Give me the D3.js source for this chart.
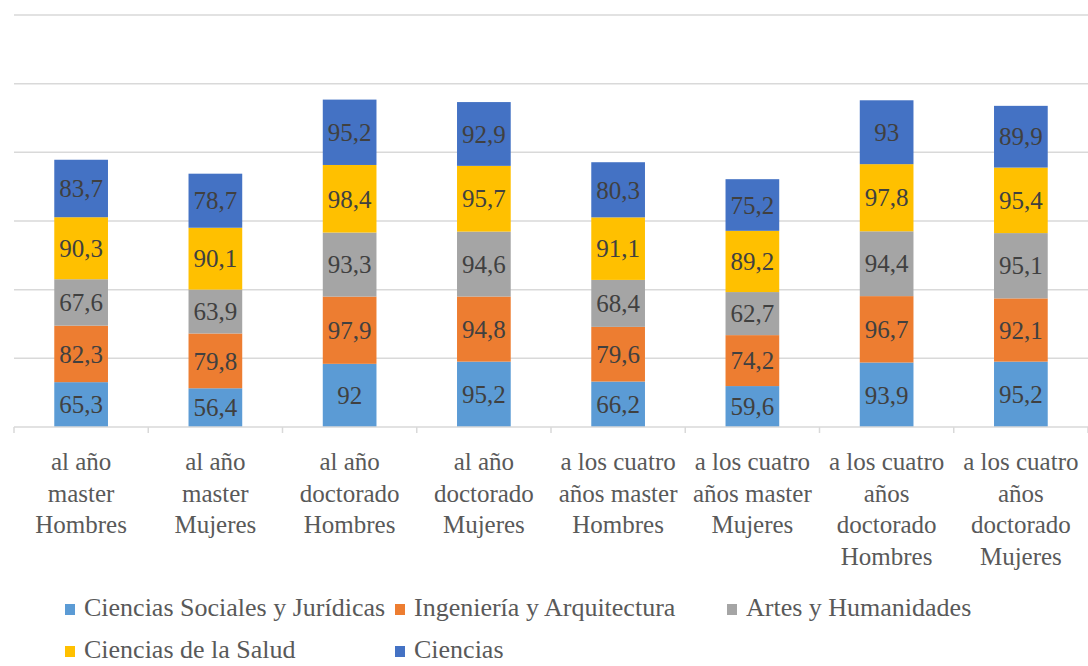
<!DOCTYPE html>
<html><head><meta charset="utf-8">
<script src="https://cdn.jsdelivr.net/npm/d3@7"></script>
<style>
html,body{margin:0;padding:0;background:#fff;}
svg{display:block;}
svg text{font-family:"Liberation Serif","Times New Roman","DejaVu Serif","Noto Serif",serif;}
</style></head>
<body>
<svg id="chart" width="1088" height="666"></svg>
<script>
const categories = [
  "al año master Hombres", "al año master Mujeres",
  "al año doctorado Hombres", "al año doctorado Mujeres",
  "a los cuatro años master Hombres", "a los cuatro años master Mujeres",
  "a los cuatro años doctorado Hombres", "a los cuatro años doctorado Mujeres"
];
const tickLabels = [
  ["al año","master","Hombres"], ["al año","master","Mujeres"],
  ["al año","doctorado","Hombres"], ["al año","doctorado","Mujeres"],
  ["a los cuatro","años master","Hombres"], ["a los cuatro","años master","Mujeres"],
  ["a los cuatro","años","doctorado","Hombres"], ["a los cuatro","años","doctorado","Mujeres"]
];
const seriesNames = ["Ciencias Sociales y Jurídicas","Ingeniería y Arquitectura","Artes y Humanidades","Ciencias de la Salud","Ciencias"];
const cienciasSociales = [65.3, 56.4, 92, 95.2, 66.2, 59.6, 93.9, 95.2];
const ingenieria       = [82.3, 79.8, 97.9, 94.8, 79.6, 74.2, 96.7, 92.1];
const artes            = [67.6, 63.9, 93.3, 94.6, 68.4, 62.7, 94.4, 95.1];
const salud            = [90.3, 90.1, 98.4, 95.7, 91.1, 89.2, 97.8, 95.4];
const ciencias         = [83.7, 78.7, 95.2, 92.9, 80.3, 75.2, 93, 89.9];
const yTicks = [0, 100, 200, 300, 400, 500, 600];
const colors = ["#5B9BD5","#ED7D31","#A5A5A5","#FFC000","#4472C4"];

const seriesValues = [cienciasSociales, ingenieria, artes, salud, ciencias];
const rows = categories.map((c, i) => {
  const r = {cat: c};
  seriesNames.forEach((s, j) => r[s] = seriesValues[j][i]);
  return r;
});
const stack = d3.stack().keys(seriesNames)(rows);

const svg = d3.select("#chart");
const m = {left: 14, right: 0, top: 15, bottom: 239};
const W = 1088, H = 666;
const x = d3.scaleBand().domain(categories).range([m.left, W - m.right]).paddingInner(0.6).paddingOuter(0.3);
const y = d3.scaleLinear().domain([0, 600]).range([H - m.bottom, m.top]);

// gridlines
svg.append("g").selectAll("line").data(yTicks.slice(1)).join("line")
  .attr("x1", m.left).attr("x2", W).attr("y1", d => y(d)).attr("y2", d => y(d))
  .attr("stroke", "#d9d9d9").attr("stroke-width", 1.5);

// bars
const g = svg.append("g");
stack.forEach((layer, j) => {
  g.append("g").attr("fill", colors[j]).selectAll("rect").data(layer).join("rect")
    .attr("x", d => x(d.data.cat)).attr("width", x.bandwidth())
    .attr("y", d => y(d[1])).attr("height", d => y(d[0]) - y(d[1]));
  g.append("g").selectAll("text").data(layer).join("text")
    .attr("x", d => x(d.data.cat) + x.bandwidth() / 2)
    .attr("y", d => (y(d[0]) + y(d[1])) / 2)
    .attr("dy", "0.35em").attr("text-anchor", "middle")
    .attr("font-size", 25).attr("fill", "#404040")
    .text((d, i) => String(seriesValues[j][i]).replace(".", ","));
});

// x axis baseline and ticks
const step = x.step();
const bounds = d3.range(categories.length + 1).map(i => m.left + i * step);
svg.append("line").attr("x1", m.left).attr("x2", W).attr("y1", y(0)).attr("y2", y(0))
  .attr("stroke", "#d9d9d9").attr("stroke-width", 1.5);
svg.append("g").selectAll("line").data(bounds).join("line")
  .attr("x1", d => d).attr("x2", d => d).attr("y1", y(0)).attr("y2", y(0) + 6)
  .attr("stroke", "#d9d9d9").attr("stroke-width", 1.5);

// category labels
const lab = svg.append("g").selectAll("text").data(categories).join("text")
  .attr("font-size", 25).attr("fill", "#595959")
  .attr("text-anchor", "middle");
lab.each(function(c, i) {
  const t = d3.select(this);
  tickLabels[i].forEach((line, k) => {
    t.append("tspan").attr("x", x(c) + x.bandwidth() / 2).attr("y", y(0) + 43 + k * 31.5).text(line);
  });
});

// legend (x = marker left, y = text baseline)
const legendPos = [[65, 616], [395, 616], [727, 616], [65, 658], [395, 658]];
const lg = svg.append("g").selectAll("g").data(seriesNames).join("g")
  .attr("transform", (d, i) => `translate(${legendPos[i][0]},${legendPos[i][1]})`);
lg.append("rect").attr("x", 0).attr("y", -12).attr("width", 10).attr("height", 11).attr("fill", (d, i) => colors[i]);
lg.append("text").attr("x", 19).attr("y", 0)
  .attr("font-size", 26).attr("fill", "#595959").text(d => d);
</script>
</body></html>
